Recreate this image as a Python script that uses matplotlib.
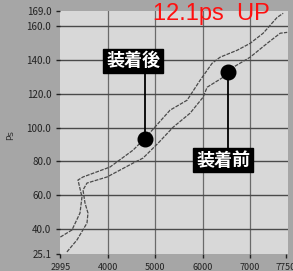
"""Power curve before/after install, redrawn from a scanned dyno chart."""

import matplotlib
matplotlib.use("Agg")
import matplotlib.pyplot as plt

# Engine speed (rpm) and power (PS).
after_rpm = [2995, 3240, 3409, 3451, 3367, 3473, 4043, 4529, 4782, 5310, 5670,
             5944, 6198, 6367, 6726, 7001, 7275, 7571, 7698]
after_ps = [35.1, 39.3, 49.3, 58.8, 68.9, 70.7, 76.6, 86.6, 93.7, 110.3, 116.2,
            128.0, 138.1, 141.7, 145.8, 149.9, 155.9, 165.3, 167.7]

before_rpm = [3134, 3346, 3557, 3578, 3515, 3473, 3557, 3980, 4529, 4740, 5060,
              5375, 5733, 6008, 6093, 6431, 6642, 7001, 7360, 7635, 7783]
before_ps = [26.3, 33.4, 43.4, 49.3, 55.3, 63.0, 67.1, 70.7, 78.9, 81.9, 90.8,
             100.2, 108.5, 118.0, 123.9, 129.8, 135.7, 141.7, 149.9, 155.9, 156.4]

y_ticks = [25.1, 40.0, 60.0, 80.0, 100.0, 120.0, 140.0, 160.0, 169.0]
x_ticks = [2995, 4000, 5000, 6000, 7000, 7750]
x_grid = [4000, 5000, 6000, 7000]
y_grid = [40, 60, 80, 100, 120, 140, 160]

label_after = "装着後"
label_before = "装着前"
title_text = "12.1ps  UP"

# marker point on each curve, and where its tag sits
after_dot = (4782, 93.1)
after_tag = (4530, 139.5)
before_dot = (6540, 133.0)
before_tag = (6430, 80.7)

plt.rcParams["font.family"] = ["Noto Sans CJK JP", "DejaVu Sans"]

fig = plt.figure(figsize=(2.93, 2.71), dpi=100, facecolor="#a6a6a6")
ax = fig.add_axes([0.206, 0.063, 0.777, 0.896])
ax.set_facecolor("#d8d8d8")

for x in x_grid:
    ax.axvline(x, color="#6a6a6a", lw=0.9, zorder=1)
for y in y_grid:
    ax.axhline(y, color="#4a4a4a", lw=1.0, zorder=1)

ax.plot(after_rpm, after_ps, color="#4a4a4a", lw=0.9, ls=(0, (3, 1)), zorder=2)
ax.plot(before_rpm, before_ps, color="#4a4a4a", lw=0.9, ls=(0, (3, 1)), zorder=2)

# dots, stems and tags
ax.plot([after_dot[0], after_dot[0]], [after_dot[1], after_tag[1]],
        color="black", lw=1.3, zorder=3)
ax.plot([before_dot[0], before_dot[0]], [before_dot[1], before_tag[1]],
        color="black", lw=1.3, zorder=3)
ax.plot(*after_dot, "o", color="black", ms=10.5, zorder=4)
ax.plot(*before_dot, "o", color="black", ms=10.5, zorder=4)
box = dict(boxstyle="square,pad=0.15", fc="black", ec="black")
ax.text(*after_tag, label_after, color="white", fontsize=13, fontweight="bold",
        ha="center", va="center", bbox=box, zorder=5)
ax.text(*before_tag, label_before, color="white", fontsize=13,
        fontweight="bold", ha="center", va="center", bbox=box, zorder=5)

ax.set_xlim(2995, 7800)
ax.set_ylim(25.1, 169.0)
ax.set_yticks(y_ticks)
ax.set_yticklabels([f"{v:.1f}" for v in y_ticks])
ax.set_xticks(x_ticks)
ax.set_xticklabels([str(v) for v in x_ticks])
ax.tick_params(axis="both", colors="#222222", length=3, width=1.0,
               direction="out")
ax.tick_params(axis="y", labelsize=7)
ax.tick_params(axis="x", labelsize=6.5)
for spine in ax.spines.values():
    spine.set_visible(False)

fig.text(0.035, 0.5, "Ps", rotation=90, fontsize=6.5, color="#333333",
         ha="center", va="center", family="DejaVu Sans")
fig.text(0.522, 0.99, title_text, color="#ff1010", fontsize=17,
         family="Liberation Sans", ha="left", va="top")

fig.savefig("out.png", dpi=100, facecolor=fig.get_facecolor())
